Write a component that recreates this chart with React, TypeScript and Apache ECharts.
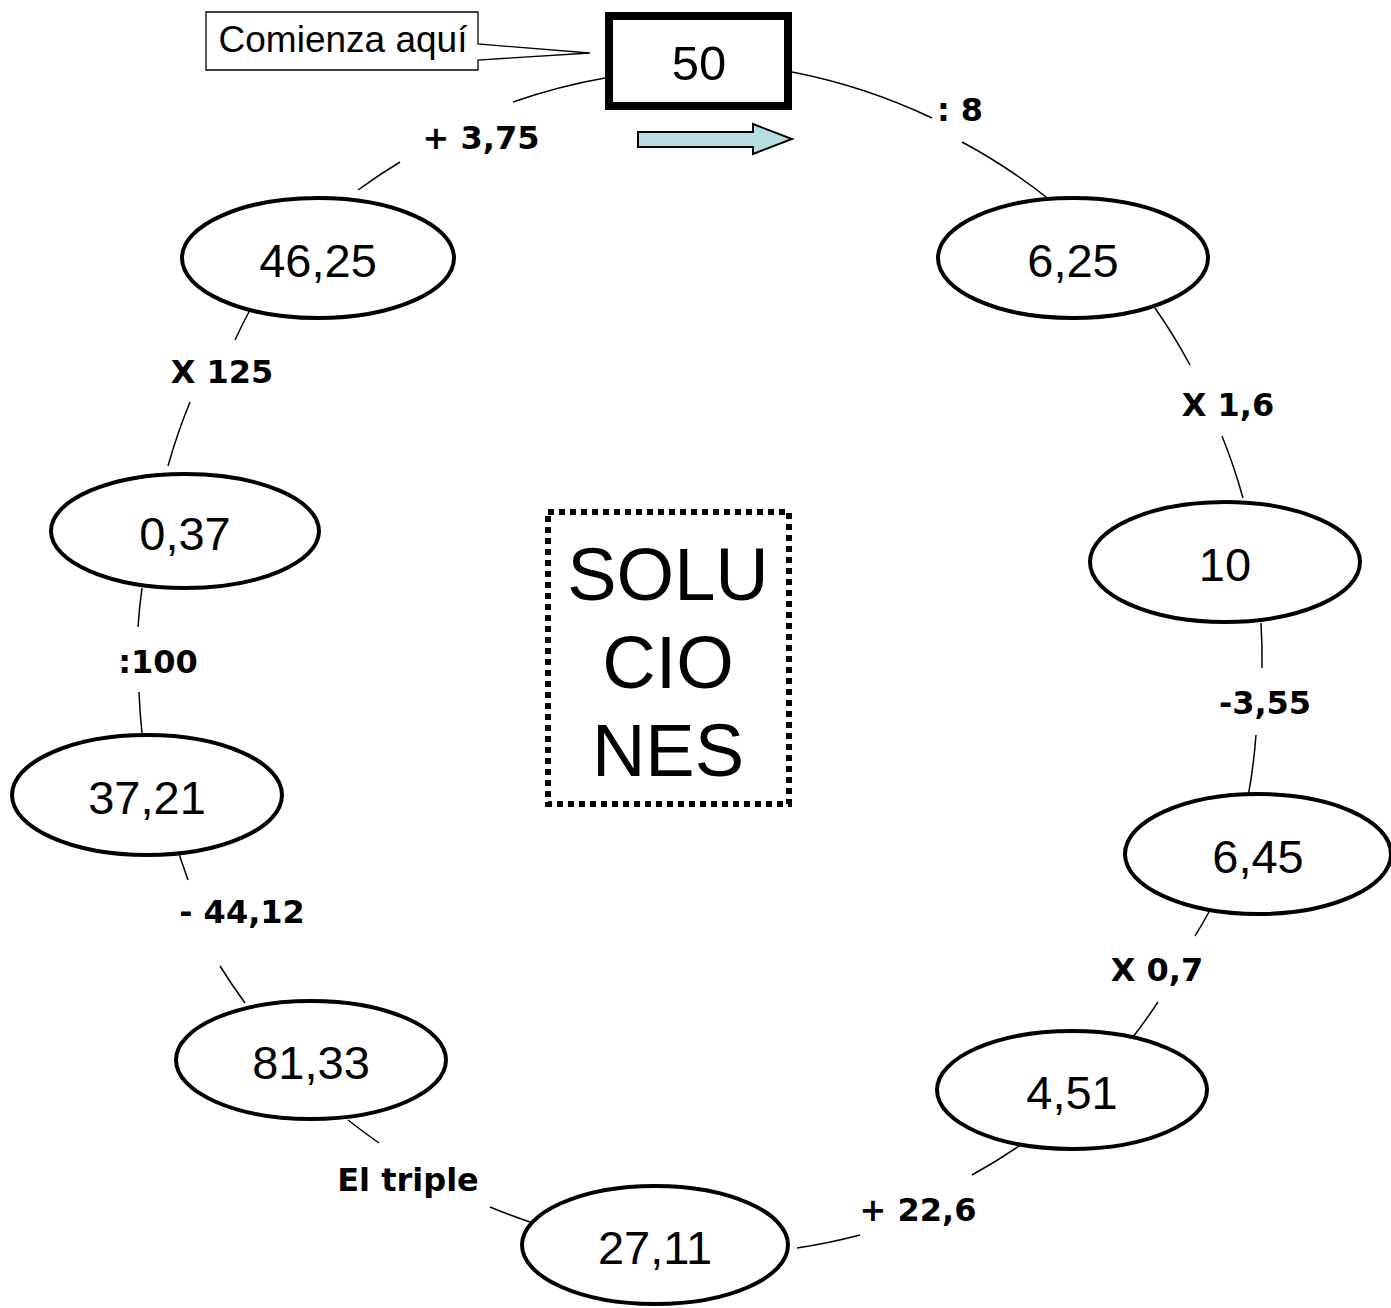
import React, { useEffect, useRef } from "react";
import * as echarts from "echarts";

// Diagram content
const startValue = "50";
const nodeValues = ["6,25", "10", "6,45", "4,51", "27,11", "81,33", "37,21", "0,37", "46,25"];
const operations = [": 8", "X 1,6", "-3,55", "X 0,7", "+ 22,6", "El triple", "- 44,12", ":100", "X 125", "+ 3,75"];
const calloutText = "Comienza aquí";
const centerWords = ["SOLU", "CIO", "NES"];

// Layout (positions only)
const nodeCenters: [number, number][] = [
  [1073, 258], [1225, 562], [1258, 854], [1072, 1090], [655, 1245],
  [311, 1060], [147, 795], [185, 531], [318, 258],
];
const nodeRadii: [number, number][] = [
  [135, 60], [135, 60], [133, 60], [135, 59], [133, 59],
  [135, 59], [135, 60], [134, 57], [136, 60],
];
const opPositions: [number, number][] = [
  [960, 110], [1228, 405], [1265, 703], [1157, 970], [918, 1210],
  [408, 1180], [242, 912], [158, 662], [222, 372], [481, 138],
];
const connectorSegments: [number, number, number, number][] = [
  [792, 72, 932, 118], [962, 142, 1050, 200],
  [1155, 308, 1190, 365], [1222, 436, 1243, 498],
  [1261, 623, 1262, 668], [1256, 735, 1248, 797],
  [1209, 912, 1195, 936], [1158, 1002, 1133, 1037],
  [1022, 1144, 972, 1175], [860, 1235, 797, 1248],
  [530, 1222, 490, 1207], [379, 1143, 348, 1120],
  [245, 1003, 220, 966], [188, 880, 172, 830],
  [142, 733, 139, 692], [138, 627, 142, 588],
  [168, 466, 190, 402], [235, 340, 251, 308],
  [358, 190, 400, 162], [513, 102, 605, 78],
];

const SANS = "'Liberation Sans', Arial, sans-serif";
const COMIC = "'Comic Sans MS', 'DejaVu Sans', sans-serif";

function curve(seg: [number, number, number, number]) {
  const [x1, y1, x2, y2] = seg;
  const cx = 700, cy = 655, R = 580;
  const mx = (x1 + x2) / 2, my = (y1 + y2) / 2;
  const dx = x2 - x1, dy = y2 - y1;
  const L = Math.hypot(dx, dy);
  let nx = -dy / L, ny = dx / L;
  if ((mx - cx) * nx + (my - cy) * ny < 0) { nx = -nx; ny = -ny; }
  const sag = (L * L) / (8 * R);
  return {
    type: "bezierCurve",
    shape: { x1, y1, x2, y2, cpx1: mx + nx * sag * 2, cpy1: my + ny * sag * 2 },
    style: { stroke: "#000", lineWidth: 1.5, fill: "none" },
    silent: true,
  };
}

function txt(x: number, y: number, text: string, size: number, family: string, weight = "normal") {
  return {
    type: "text",
    x, y,
    style: {
      text, fill: "#000", fontSize: size, fontFamily: family, fontWeight: weight,
      align: "center", verticalAlign: "middle", textAlign: "center", textVerticalAlign: "middle",
    },
    silent: true,
  };
}

export default function App() {
  const ref = useRef<HTMLDivElement>(null);
  useEffect(() => {
    if (!ref.current) return;
    const chart = echarts.init(ref.current, undefined, { renderer: "svg" });
    const elements: any[] = [];
    connectorSegments.forEach((s) => elements.push(curve(s)));
    nodeValues.forEach((v, i) => {
      const [cx, cy] = nodeCenters[i];
      const [rx, ry] = nodeRadii[i];
      elements.push({
        type: "ellipse",
        shape: { cx, cy, rx, ry },
        style: { fill: "#fff", stroke: "#000", lineWidth: 4 },
        silent: true,
      });
      elements.push(txt(cx, cy + 2, v, 47, SANS));
    });
    operations.forEach((op, i) => {
      const [x, y] = opPositions[i];
      elements.push(txt(x, y, op, 32, COMIC, "bold"));
    });
    // start box
    elements.push({
      type: "rect",
      shape: { x: 609, y: 16, width: 179, height: 90 },
      style: { fill: "#fff", stroke: "#000", lineWidth: 8 },
      silent: true,
    });
    elements.push(txt(699, 63, startValue, 49, SANS));
    // callout
    elements.push({
      type: "polygon",
      shape: { points: [[206, 12], [478, 12], [478, 44], [590, 53], [478, 60], [478, 70], [206, 70]] },
      style: { fill: "#fff", stroke: "#000", lineWidth: 1.3 },
      silent: true,
    });
    elements.push(txt(343, 39, calloutText, 37, SANS));
    // arrow
    elements.push({
      type: "polygon",
      shape: { points: [[638, 132], [753, 132], [753, 124], [792, 139], [753, 154], [753, 147], [638, 147]] },
      style: { fill: "#b7dfe3", stroke: "#000", lineWidth: 2 },
      silent: true,
    });
    // SOLUCIONES box
    elements.push({
      type: "rect",
      shape: { x: 548, y: 512, width: 241, height: 292 },
      style: { fill: "none", stroke: "#000", lineWidth: 6, lineDash: [6, 5] },
      silent: true,
    });
    centerWords.forEach((w, i) => {
      elements.push(txt(668, 574 + i * 88, w, 74, SANS));
    });

    chart.setOption({
      animation: false,
      backgroundColor: "#fff",
      graphic: { elements },
    });
    return () => chart.dispose();
  }, []);
  return (
    <div
      ref={ref}
      style={{ position: "fixed", left: 0, top: 0, width: 1391, height: 1308, background: "#fff" }}
    />
  );
}
